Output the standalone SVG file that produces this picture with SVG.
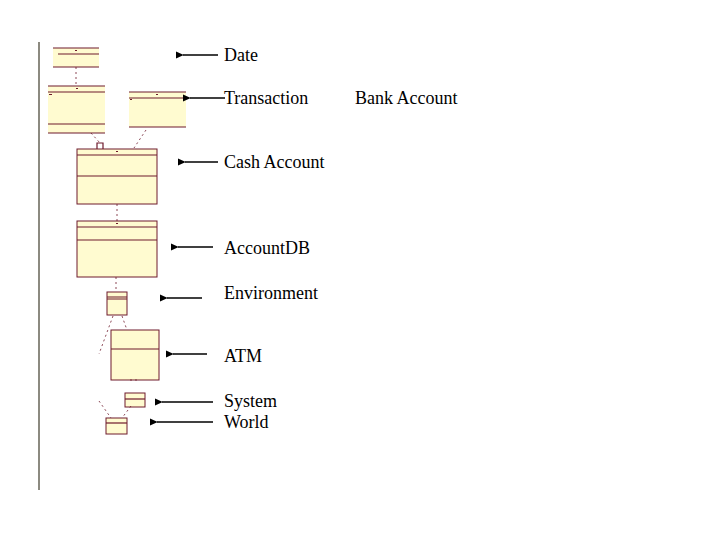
<svg xmlns="http://www.w3.org/2000/svg" width="720" height="540" viewBox="0 0 720 540">
<style>
.box{fill:#fffbd0;stroke:none}
.ln{stroke:#6e1a2c;stroke-width:1.2;fill:none}
.side{stroke:#6e1a2c;stroke-width:1;fill:none}
.dash{stroke:#6e1a2c;stroke-width:0.8;stroke-dasharray:2 3;fill:none}
.arr{stroke:#000;stroke-width:1.6;fill:none;marker-start:url(#ah)}
.lbl{font-family:"Liberation Serif","Times New Roman",serif;font-size:18px;fill:#000}
.tick{fill:#6e1a2c}
</style>
<defs>
<marker id="ah" viewBox="0 0 10 10" refX="1" refY="5" markerWidth="5" markerHeight="5" orient="auto-start-reverse" markerUnits="strokeWidth">
<path d="M10,0.5 L0,5 L10,9.5 Z" fill="#000"/>
</marker>
</defs>
<rect width="720" height="540" fill="#fff"/>
<line x1="39" y1="42" x2="39" y2="490" stroke="#8c8a80" stroke-width="2"/>

<g id="date">
<rect class="box" x="53" y="48" width="46" height="19"/>
<path class="ln" d="M53,48H99M58,54H99M53,67H99"/>
<rect class="tick" x="75" y="50" width="2" height="1"/>
</g>
<g id="transaction">
<rect class="box" x="48" y="86" width="57" height="47"/>
<path class="ln" d="M48,86H105M48,92H105M48,124H105M48,133H105"/>
<rect class="tick" x="76" y="88" width="2" height="1"/>
<rect class="tick" x="49" y="94" width="3" height="1"/>
</g>
<g id="bankaccount">
<rect class="box" x="129" y="92" width="57" height="35"/>
<path class="ln" d="M129,92H186M129,98H186M129,127H186"/>
<rect class="tick" x="156" y="94" width="2" height="1"/>
<rect class="tick" x="130" y="99" width="2" height="1"/>
</g>
<g id="cashaccount">
<rect class="box" x="77" y="149" width="80" height="55"/>
<rect class="side" x="77" y="149" width="80" height="55"/>
<path class="ln" d="M77,155H157M77,176H157"/>
<rect class="tick" x="116" y="151" width="2" height="1"/>
</g>
<g id="accountdb">
<rect class="box" x="77" y="221" width="80" height="56"/>
<rect class="side" x="77" y="221" width="80" height="56"/>
<path class="ln" d="M77,227H157M77,240H157"/>
<rect class="tick" x="116" y="223" width="2" height="1"/>
</g>
<g id="environment">
<rect class="box" x="107" y="292" width="20" height="23"/>
<rect class="side" x="107" y="292" width="20" height="23"/>
<path class="ln" d="M107,297H127M107,299H127"/>
</g>
<g id="atm">
<rect class="box" x="111" y="330" width="48" height="50"/>
<rect class="side" x="111" y="330" width="48" height="50"/>
<path class="ln" d="M111,349H159"/>
</g>
<g id="system">
<rect class="box" x="125" y="393" width="20" height="14"/>
<rect class="side" x="125" y="393" width="20" height="14"/>
<path class="ln" d="M125,399H145"/>
</g>
<g id="world">
<rect class="box" x="106" y="418" width="21" height="16"/>
<rect class="side" x="106" y="418" width="21" height="16"/>
<path class="ln" d="M106,423H127"/>
</g>

<g id="connectors">
<path class="dash" d="M76,67V86"/>
<path class="dash" d="M91,133L100,143"/>
<path class="ln" d="M97,149V143H103V149" stroke="#8a1a3a"/>
<path class="dash" d="M146,130L134,148"/>
<path class="dash" d="M117,204V221"/>
<path class="dash" d="M116,277V292"/>
<path class="dash" d="M113,316L99,354"/>
<path class="dash" d="M122,316L127,330"/>
<path class="dash" d="M130,380H140"/>
<path class="dash" d="M131,406L122,418"/>
<path class="dash" d="M99,401L111,418"/>
</g>

<g id="arrows">
<line class="arr" x1="183" y1="55" x2="218" y2="55"/>
<line class="arr" x1="190" y1="98" x2="225" y2="98"/>
<line class="arr" x1="185" y1="162" x2="218" y2="162"/>
<line class="arr" x1="178" y1="247" x2="213" y2="247"/>
<line class="arr" x1="167" y1="298" x2="202" y2="298"/>
<line class="arr" x1="173" y1="354" x2="207" y2="354"/>
<line class="arr" x1="162" y1="402" x2="213" y2="402"/>
<line class="arr" x1="157" y1="422" x2="213" y2="422"/>
</g>

<g id="labels">
<text class="lbl" x="224" y="61">Date</text>
<text class="lbl" x="224" y="104">Transaction</text>
<text class="lbl" x="355" y="104">Bank Account</text>
<text class="lbl" x="224" y="168">Cash Account</text>
<text class="lbl" x="224" y="254">AccountDB</text>
<text class="lbl" x="224" y="299">Environment</text>
<text class="lbl" x="224" y="362">ATM</text>
<text class="lbl" x="224" y="407">System</text>
<text class="lbl" x="224" y="428">World</text>
</g>
</svg>
